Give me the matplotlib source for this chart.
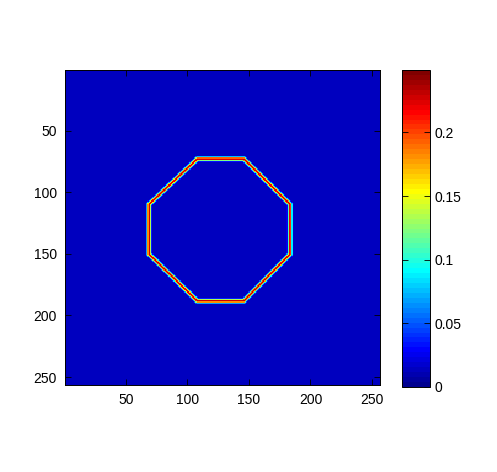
import numpy as np
import matplotlib
matplotlib.use("Agg")
import matplotlib.pyplot as plt
from matplotlib.colors import ListedColormap

plt.rcParams['font.family'] = ['Liberation Sans', 'DejaVu Sans']

### data: octagon outline (x, y in pixel coords of a 256x256 image)
size = 256
oct_x = [108, 145.8, 183.4, 183.4, 145.8, 108, 68.8, 68.8]
oct_y = [72.7, 72.7, 109.6, 150.2, 188.2, 188.2, 150.2, 109.6]
edge_peak = 0.232
edge_width = 1.15
bg_level = 0.012
clim = [0, 0.249]
xticks = [50, 100, 150, 200, 250]
yticks = [50, 100, 150, 200, 250]
cticks = [0, 0.05, 0.1, 0.15, 0.2]
cticklabels = ["0", "0.05", "0.1", "0.15", "0.2"]


def matlab_jet(n=64):
    m = n // 4
    u = np.concatenate([np.arange(1, m + 1) / m, np.ones(m - 1), np.arange(m, 0, -1) / m])
    g = int(np.ceil(m / 2)) - (n % 4 == 1) + np.arange(1, len(u) + 1)
    r = g + m
    b = g - m
    g = g[g <= n]
    r = r[r <= n]
    b = b[b >= 1]
    J = np.zeros((n, 3))
    J[r - 1, 0] = u[:len(r)]
    J[g - 1, 1] = u[:len(g)]
    J[b - 1, 2] = u[len(u) - len(b):]
    return ListedColormap(J)


### distance of every pixel to the octagon outline
yy, xx = np.mgrid[1:size + 1, 1:size + 1].astype(float)
dist = np.full((size, size), np.inf)
for i in range(len(oct_x)):
    x0, y0 = oct_x[i], oct_y[i]
    x1, y1 = oct_x[(i + 1) % len(oct_x)], oct_y[(i + 1) % len(oct_y)]
    dx, dy = x1 - x0, y1 - y0
    t = np.clip(((xx - x0) * dx + (yy - y0) * dy) / (dx * dx + dy * dy), 0, 1)
    d = np.hypot(xx - (x0 + t * dx), yy - (y0 + t * dy))
    dist = np.minimum(dist, d)

img = np.maximum(edge_peak * np.exp(-dist ** 2 / (2 * edge_width ** 2)), bg_level)

fig = plt.figure(figsize=(4.97, 4.72), dpi=100)
ax = fig.add_axes([65 / 497, 1 - 385 / 472, 315 / 497, 315 / 472])
im = ax.imshow(img, cmap=matlab_jet(64), vmin=clim[0], vmax=clim[1],
               extent=[0.5, size + 0.5, size + 0.5, 0.5], interpolation="nearest", aspect="auto")
ax.set_xticks(xticks)
ax.set_yticks(yticks)
ax.tick_params(direction="in", length=4, width=0.6, top=True, right=True, labelsize=10, pad=6)
for s in ax.spines.values():
    s.set_linewidth(0.7)

cax = fig.add_axes([402 / 497, 1 - 387 / 472, 28 / 497, 317 / 472])
cb = fig.colorbar(im, cax=cax, ticks=cticks)
cb.ax.set_yticklabels(cticklabels)
cax.tick_params(direction="in", length=4, width=0.6, left=True, right=True, labelsize=10, pad=3)
cb.outline.set_linewidth(0.7)

fig.savefig("out.png", dpi=100)
